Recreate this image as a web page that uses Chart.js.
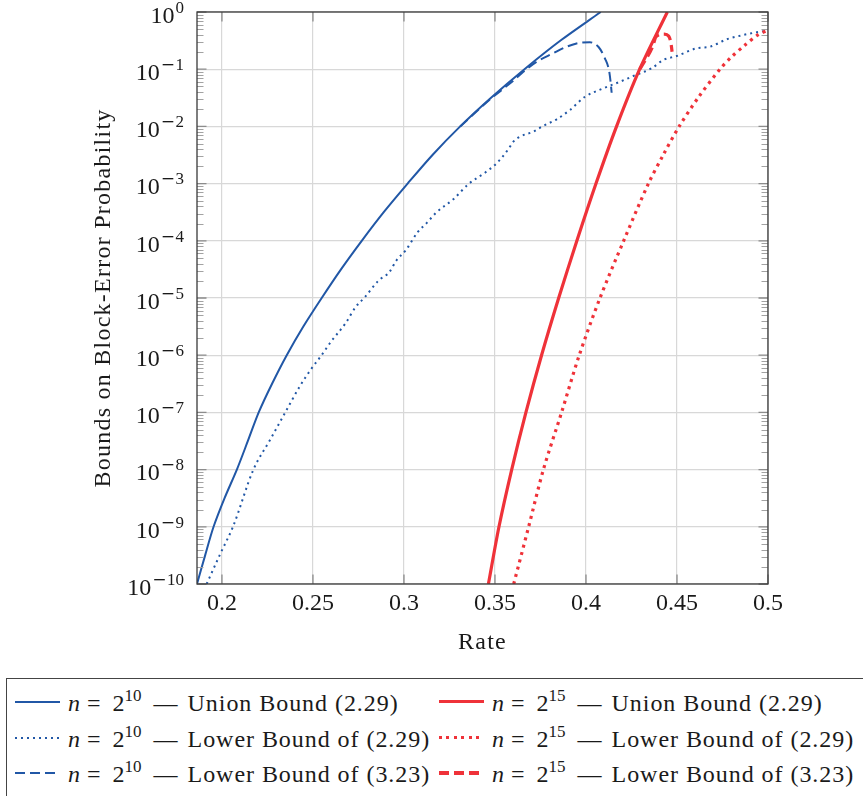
<!DOCTYPE html>
<html lang="en">
<head>
<meta charset="utf-8">
<title>Bounds on block-error probability</title>
<script src="https://cdn.jsdelivr.net/npm/chart.js@4.4.1/dist/chart.umd.min.js"></script>
<style>
  html, body { margin: 0; padding: 0; background: #fff; }
  body { position: relative; width: 863px; height: 796px; overflow: hidden;
         font-family: 'Liberation Serif', Tinos, 'Times New Roman', serif; color: #1a1a1a; }
  #plot { position: absolute; left: 0; top: 0; }
  #legend { position: absolute; left: 6px; top: 678px; width: 900px; height: 160px;
            border: 1.3px solid #444; }
  .sample { position: absolute; width: 45px; }
  .entry { position: absolute; font-size: 24px; line-height: 24px; white-space: nowrap; }
  .entry .rel { margin: 0 12px 0 7px; }
  .entry .sep { margin: 0 10px 0 12px; }
  .entry .name { letter-spacing: 0.95px; }
  .entry sup { font-size: 17px; line-height: 0; vertical-align: 10px; }
</style>
</head>
<body>
<canvas id="plot" width="863" height="670"></canvas>
<div id="legend"></div>
<script>
// axis ticks
const rateTicks = [0.2, 0.25, 0.3, 0.35, 0.4, 0.45, 0.5];
const rateTickLabels = ['0.2', '0.25', '0.3', '0.35', '0.4', '0.45', '0.5'];
const probTicks = [1, 1e-1, 1e-2, 1e-3, 1e-4, 1e-5, 1e-6, 1e-7, 1e-8, 1e-9, 1e-10];
const probTickExponents = ['0', '−1', '−2', '−3', '−4', '−5', '−6', '−7', '−8', '−9', '−10'];

const xTitle = 'Rate';
const yTitle = 'Bounds on Block-Error Probability';
const boundNames = ['Union Bound (2.29)', 'Lower Bound of (2.29)', 'Lower Bound of (3.23)'];

// n = 2^10
const rateUnion10 = [0.1863, 0.1908, 0.1954, 0.2015, 0.2082, 0.2143, 0.2202, 0.2276, 0.2356, 0.2448, 0.2548,
  0.2655, 0.2768, 0.2890, 0.3020, 0.3158, 0.3309, 0.3480, 0.3662, 0.3862, 0.4081];
const probUnion10 = [1e-10, 3.2e-10, 1e-9, 3.2e-9, 1e-8, 3.2e-8, 1e-7, 3.2e-7, 1e-6, 3.2e-6, 1e-5,
  3.2e-5, 1e-4, 3.2e-4, 1e-3, 3.2e-3, 1e-2, 3.2e-2, 0.1, 0.32, 1];

const rateLower10 = [0.1916, 0.1993, 0.2060, 0.2172, 0.2264, 0.2346, 0.2429, 0.2493, 0.2539, 0.2603,
  0.2676, 0.2736, 0.2786, 0.2859, 0.2919, 0.2960, 0.3011, 0.3075, 0.3128, 0.3180, 0.3271, 0.3353,
  0.3445, 0.3509, 0.3573, 0.3601, 0.3637, 0.3710, 0.3765, 0.3839, 0.3912, 0.3995, 0.4095, 0.4187,
  0.4260, 0.4361, 0.4425, 0.4498, 0.4608, 0.4681, 0.4773, 0.4864, 0.4938, 0.5];
const probLower10 = [1.0e-10, 3.48e-10, 9.9e-10, 9.84e-9, 3.29e-8, 9.77e-8, 2.90e-7, 5.90e-7, 9.18e-7, 1.79e-6,
  3.51e-6, 7.05e-6, 1.04e-5, 2.00e-5, 2.81e-5, 4.61e-5, 6.90e-5, 1.41e-4, 2.10e-4, 3.18e-4, 5.32e-4, 9.72e-4,
  1.55e-3, 2.26e-3, 3.98e-3, 5.41e-3, 6.61e-3, 8.07e-3, 1.02e-2, 1.33e-2, 1.94e-2, 3.30e-2, 4.63e-2, 6.04e-2,
  7.60e-2, 0.104, 0.145, 0.170, 0.232, 0.247, 0.333, 0.396, 0.442, 0.475];

const rateTight10 = [0.3309, 0.3480, 0.3601, 0.3656, 0.3729, 0.3820, 0.3894, 0.3967, 0.4022,
  0.4068, 0.4104, 0.4128, 0.4137, 0.4141];
const probTight10 = [1e-2, 3.1e-2, 6.3e-2, 9.0e-2, 0.135, 0.190, 0.247, 0.290, 0.295,
  0.247, 0.155, 9.04e-2, 5.30e-2, 3.88e-2];

// n = 2^15
const rateUnion15 = [0.3464, 0.3522, 0.3592, 0.3670, 0.3756, 0.3850, 0.3950, 0.4055, 0.4168, 0.4295, 0.4447];
const probUnion15 = [1e-10, 1e-9, 1e-8, 1e-7, 1e-6, 1e-5, 1e-4, 1e-3, 1e-2, 1e-1, 1];

const rateLower15 = [0.3603, 0.3685, 0.3766, 0.3866, 0.3963, 0.4077, 0.4207, 0.4343, 0.4425, 0.4512,
  0.4617, 0.4736, 0.4797, 0.4870, 0.4949, 0.5];
const probLower15 = [1e-10, 1e-9, 1e-8, 1e-7, 1e-6, 1e-5, 1e-4, 1e-3, 3.2e-3, 1e-2,
  3.2e-2, 0.1, 0.161, 0.258, 0.407, 0.48];

const rateTight15 = [0.4295, 0.4321, 0.4366, 0.4385, 0.4430, 0.4454, 0.4467, 0.4473];
const probTight15 = [0.1, 0.135, 0.247, 0.370, 0.412, 0.380, 0.284, 0.202];

const SERIF = "'Liberation Serif', Tinos, 'Times New Roman', serif";
const INK = '#1a1a1a';
const BLUE = '#2157a6';
const RED = '#ef3239';
const GRID = '#d8d8d8';

// bounds are smooth; the tight bounds turn over, so they keep monotone interpolation
const series = [
  { n: '10', bound: boundNames[0], xs: rateUnion10, ys: probUnion10, color: BLUE, width: 2, dash: [], smooth: 'tension' },
  { n: '10', bound: boundNames[1], xs: rateLower10, ys: probLower10, color: BLUE, width: 2, dash: [2, 4], smooth: 'monotone' },
  { n: '10', bound: boundNames[2], xs: rateTight10, ys: probTight10, color: BLUE, width: 2, dash: [10, 5], smooth: 'monotone' },
  { n: '15', bound: boundNames[0], xs: rateUnion15, ys: probUnion15, color: RED, width: 3.2, dash: [], smooth: 'tension' },
  { n: '15', bound: boundNames[1], xs: rateLower15, ys: probLower15, color: RED, width: 3.2, dash: [3, 4.5], smooth: 'tension' },
  { n: '15', bound: boundNames[2], xs: rateTight15, ys: probTight15, color: RED, width: 3.2, dash: [10, 5], smooth: 'monotone' },
];

const datasets = series.map(s => ({
  label: 'n = 2^' + s.n + ' — ' + s.bound,
  data: s.xs.map((x, i) => ({ x: x, y: s.ys[i] })),
  borderColor: s.color,
  borderWidth: s.width,
  borderDash: s.dash,
  borderCapStyle: 'butt',
  borderJoinStyle: 'round',
  cubicInterpolationMode: s.smooth === 'monotone' ? 'monotone' : 'default',
  tension: s.smooth === 'monotone' ? 0 : 0.3,
  pointRadius: 0,
  fill: false,
  order: s.color === RED ? 0 : 1,
}));

// writes 10^e right-aligned at xRight, centred on the tick at y
function drawPower(ctx, exp, xRight, y) {
  const neg = exp.charAt(0) === '−';
  const digits = neg ? exp.slice(1) : exp;
  ctx.textAlign = 'right';
  ctx.textBaseline = 'alphabetic';
  ctx.font = '17px ' + SERIF;
  ctx.fillText(digits, xRight, y + 0.7);
  let left = xRight - ctx.measureText(digits).width;
  if (neg) {
    ctx.font = "17px 'DejaVu Serif', serif";
    ctx.fillText('−', left - 0.5, y + 0.7);
    left -= ctx.measureText('−').width + 0.5;
  }
  ctx.font = '24px ' + SERIF;
  ctx.fillText('10', left - 1, y + 10.7);
}

const frame = {
  id: 'frame',
  afterDraw(chart) {
    const { ctx, chartArea: a, scales: { x, y } } = chart;
    ctx.save();

    // minor ticks of the log axis, inside on both sides
    ctx.strokeStyle = '#a2a2a2';
    ctx.lineWidth = 1;
    ctx.beginPath();
    probTicks.slice(1).forEach(d => {
      for (let k = 2; k <= 9; k++) {
        const py = Math.round(y.getPixelForValue(k * d)) + 0.5;
        ctx.moveTo(a.left, py); ctx.lineTo(a.left + 6.5, py);
        ctx.moveTo(a.right, py); ctx.lineTo(a.right - 6.5, py);
      }
    });
    ctx.stroke();

    // major ticks
    ctx.strokeStyle = '#8c8c8c';
    ctx.lineWidth = 1.3;
    ctx.beginPath();
    probTicks.forEach(v => {
      const py = y.getPixelForValue(v);
      ctx.moveTo(a.left, py); ctx.lineTo(a.left + 9.5, py);
      ctx.moveTo(a.right, py); ctx.lineTo(a.right - 9.5, py);
    });
    rateTicks.forEach(v => {
      const px = x.getPixelForValue(v);
      ctx.moveTo(px, a.top); ctx.lineTo(px, a.top + 9.5);
      ctx.moveTo(px, a.bottom); ctx.lineTo(px, a.bottom - 9.5);
    });
    ctx.stroke();

    // axis box
    ctx.strokeStyle = '#3a3a3a';
    ctx.lineWidth = 1.3;
    ctx.strokeRect(a.left, a.top, a.right - a.left, a.bottom - a.top);

    // y tick labels
    ctx.fillStyle = INK;
    probTicks.forEach((v, i) => drawPower(ctx, probTickExponents[i], a.left - 13, y.getPixelForValue(v)));

    // axis titles
    ctx.font = '24px ' + SERIF;
    ctx.letterSpacing = '1.25px';
    ctx.textAlign = 'center';
    ctx.textBaseline = 'middle';
    ctx.fillText(xTitle, (a.left + a.right) / 2, a.bottom + 59);
    ctx.translate(a.left - 93, (a.top + a.bottom) / 2);
    ctx.rotate(-Math.PI / 2);
    ctx.fillText(yTitle, 0, 0);
    ctx.letterSpacing = '0px';
    ctx.restore();
  }
};

const chart = new Chart(document.getElementById('plot'), {
  type: 'line',
  data: { datasets: datasets },
  options: {
    responsive: false,
    animation: false,
    layout: { padding: { top: 12, right: 95, left: 0, bottom: 0 } },
    plugins: { legend: { display: false }, tooltip: { enabled: false } },
    scales: {
      x: {
        type: 'linear',
        min: 0.1863,
        max: 0.5,
        afterBuildTicks: s => { s.ticks = rateTicks.map(v => ({ value: v })); },
        afterFit: s => { s.height = 86; },
        grid: { color: GRID, lineWidth: 1.2, drawTicks: false },
        border: { display: false },
        ticks: {
          callback: (v, i) => rateTickLabels[i],
          font: { family: SERIF, size: 24, lineHeight: 1 },
          color: INK,
          padding: 8,
          maxRotation: 0,
          autoSkip: false,
        },
      },
      y: {
        type: 'logarithmic',
        min: 1e-10,
        max: 1,
        afterBuildTicks: s => { s.ticks = probTicks.map(v => ({ value: v })); },
        afterFit: s => { s.width = 197; },
        grid: { color: GRID, lineWidth: 1.2, drawTicks: false },
        border: { display: false },
        ticks: { display: false },
      },
    },
  },
  plugins: [frame],
});

// legend below the plot, two columns (one per block length)
const legendRows = [702.5, 738.5, 774];
const legendCols = [15, 439];
series.forEach((s, i) => {
  const col = i < 3 ? 0 : 1;
  const row = i % 3;
  const yc = legendRows[row];
  const x0 = legendCols[col];

  const sample = document.createElement('div');
  sample.className = 'sample';
  const h = s.width;
  sample.style.left = x0 + 'px';
  sample.style.top = (yc - 1 - h / 2) + 'px';
  sample.style.height = h + 'px';
  if (s.dash.length) {
    const on = s.dash[0], off = s.dash[1];
    sample.style.background = 'repeating-linear-gradient(to right, ' + s.color + ' 0 ' + on + 'px, transparent ' +
      on + 'px ' + (on + off) + 'px)';
  } else {
    sample.style.background = s.color;
  }
  document.body.appendChild(sample);

  const entry = document.createElement('div');
  entry.className = 'entry';
  entry.style.left = (x0 + 53) + 'px';
  entry.style.top = (yc - 12) + 'px';
  entry.innerHTML = '<i>n</i><span class="rel">=</span>2<sup>' + s.n + '</sup><span class="sep">—</span>' +
    '<span class="name">' + s.bound + '</span>';
  document.body.appendChild(entry);
});
</script>
</body>
</html>
